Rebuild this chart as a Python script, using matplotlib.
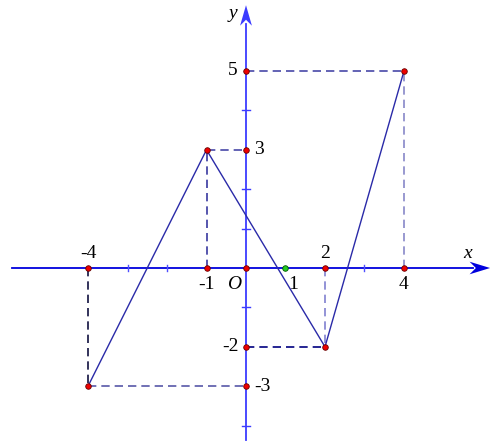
import numpy as np
import matplotlib.pyplot as plt
from matplotlib.patches import Polygon

# polyline vertices
line_x = [-4, -1, 2, 4]
line_y = [-3, 3, -2, 5]

# labelled tick values
x_labels = ['-4', '-1', '2', '4']
x_label_vals = [-4, -1, 2, 4]
y_labels = ['5', '3', '-2', '-3']
y_label_vals = [5, 3, -2, -3]
minor_x = [-3, -2, 3]
minor_y = [1, 2, 4, -1, -4]

plt.rcParams['font.family'] = ['Liberation Serif', 'DejaVu Serif']

fig = plt.figure(figsize=(4.95, 4.47), dpi=100)
ax = fig.add_axes([0, 0, 1, 1])
ax.set_xlim(-6.228, 6.304)
ax.set_ylim(-4.543, 6.802)
ax.axis('off')

# axes
xa_col = '#0000dd'
ya_col = '#3c3cff'
ax.plot([-5.92, 5.75], [0, 0], color=xa_col, lw=1.3, zorder=2)
ax.plot([0, 0], [-4.37, 6.2], color=ya_col, lw=1.3, zorder=2)
ax.add_patch(Polygon([[6.18, 0], [5.66, 0.16], [5.82, 0], [5.66, -0.16]],
                     closed=True, color=xa_col, lw=0, zorder=3))
ax.add_patch(Polygon([[0, 6.67], [-0.15, 6.15], [0, 6.3], [0.15, 6.15]],
                     closed=True, color=ya_col, lw=0, zorder=3))

# small ticks
for v in minor_x:
    ax.plot([v, v], [-0.07, 0.07], color='#5050ff', lw=1, zorder=2)
for v in minor_y:
    ax.plot([-0.1, 0.1], [v, v], color=ya_col, lw=1, zorder=2)

# dashed guides
dash = dict(lw=1.2, dashes=(5, 3), zorder=1)
ax.plot([-4, -4], [0, -3], color='#101040', **dash)
ax.plot([-4, 0], [-3, -3], color='#5858a8', **dash)
ax.plot([-1, -1], [0, 3], color='#3838a0', **dash)
ax.plot([-1, 0], [3, 3], color='#4848a8', **dash)
ax.plot([2, 2], [0, -2], color='#8080d0', **dash)
ax.plot([0, 2], [-2, -2], color='#000080', **dash)
ax.plot([4, 4], [0, 5], color='#8888c8', **dash)
ax.plot([0, 4], [5, 5], color='#4848a8', **dash)

# polyline
ax.plot(line_x, line_y, color='#2a2aa8', lw=1.0, zorder=4)

# points
px = [-4, -4, 0, -1, -1, 0, 0, 2, 2, 0, 4, 4, 0]
py = [0, -3, -3, 0, 3, 3, 0, 0, -2, -2, 0, 5, 5]
ax.scatter(px, py, s=16, color='#ee0000', edgecolors='#660000', linewidths=0.6, zorder=5)
ax.scatter([1], [0], s=16, color='#22cc22', edgecolors='#005500', linewidths=0.6, zorder=5)

# labels
fs = 14
ax.text(-4, 0.15, x_labels[0], fontsize=fs, ha='center', va='bottom')
ax.text(-1, -0.2, x_labels[1], fontsize=fs, ha='center', va='top')
ax.text(2, 0.15, x_labels[2], fontsize=fs, ha='center', va='bottom')
ax.text(4, -0.2, x_labels[3], fontsize=fs, ha='center', va='top')
ax.text(-0.12, -0.2, 'O', fontsize=fs, ha='right', va='top', style='italic')
ax.text(1.2, -0.2, '1', fontsize=fs, ha='center', va='top')
ax.text(-0.22, 5, y_labels[0], fontsize=fs, ha='right', va='center')
ax.text(0.2, 3, y_labels[1], fontsize=fs, ha='left', va='center')
ax.text(-0.18, -2, y_labels[2], fontsize=fs, ha='right', va='center')
ax.text(0.2, -3, y_labels[3], fontsize=fs, ha='left', va='center')
ax.text(5.6, 0.15, 'x', fontsize=fs, ha='center', va='bottom', style='italic')
ax.text(-0.33, 6.45, 'y', fontsize=fs, ha='center', va='center', style='italic')

fig.savefig('out.png', dpi=100)
